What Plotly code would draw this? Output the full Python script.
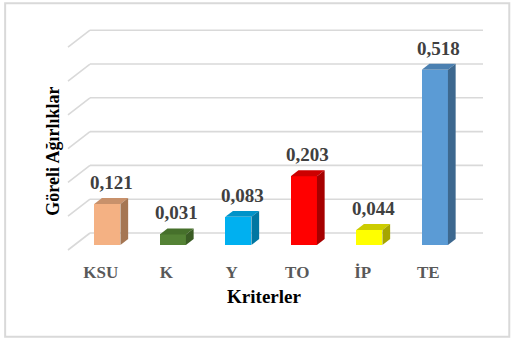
import plotly.graph_objects as go

# Criteria and their relative weights
categories = ["KSU", "K", "Y", "TO", "İP", "TE"]
weights = [0.121, 0.031, 0.083, 0.203, 0.044, 0.518]
grid_values = [0.0, 0.1, 0.2, 0.3, 0.4, 0.5, 0.6]

front_colors = ["#F4B183", "#548235", "#00B0F0", "#FF0000", "#FFFF00", "#5B9BD5"]
top_colors = ["#C8916B", "#46702B", "#0093C9", "#CC0000", "#CCCC00", "#4B80B1"]
side_colors = ["#A57653", "#3A5C24", "#0077A2", "#A60000", "#A6A600", "#3D688F"]

SERIF = "Times New Roman, Liberation Serif, serif"

# Pseudo-3D depth vector (x in category units, y in value units)
DX, DY = 0.336, 0.0503
F_FRONT, F_BACK = 0.3, 0.65   # depth fractions of the bar faces
BAR_W = 0.4

fig = go.Figure()

# Back wall gridlines and left-hand floor diagonals
shapes = []
for g in grid_values:
    shapes.append(dict(type="line", xref="x", yref="y", layer="below",
                       x0=-0.5 + DX, y0=g + DY, x1=len(categories) - 0.5 + DX, y1=g + DY,
                       line=dict(color="#D9D9D9", width=1.6)))
    shapes.append(dict(type="line", xref="x", yref="y", layer="below",
                       x0=-0.5, y0=g, x1=-0.5 + DX, y1=g + DY,
                       line=dict(color="#D9D9D9", width=1.6)))

# Front faces
xs_front = [i + F_FRONT * DX for i in range(len(categories))]
fig.add_trace(go.Bar(
    x=xs_front, y=weights, base=F_FRONT * DY, width=BAR_W,
    marker=dict(color=front_colors, line=dict(width=0)),
    showlegend=False, hoverinfo="skip",
))

# Top and side faces
ddx = (F_BACK - F_FRONT) * DX
ddy = (F_BACK - F_FRONT) * DY
for i, v in enumerate(weights):
    xl = xs_front[i] - BAR_W / 2
    xr = xs_front[i] + BAR_W / 2
    yb = F_FRONT * DY
    yt = v + F_FRONT * DY
    fig.add_trace(go.Scatter(
        x=[xl, xr, xr + ddx, xl + ddx, xl], y=[yt, yt, yt + ddy, yt + ddy, yt],
        fill="toself", fillcolor=top_colors[i], mode="lines", line=dict(width=0),
        showlegend=False, hoverinfo="skip"))
    fig.add_trace(go.Scatter(
        x=[xr, xr + ddx, xr + ddx, xr, xr], y=[yb, yb + ddy, yt + ddy, yt, yb],
        fill="toself", fillcolor=side_colors[i], mode="lines", line=dict(width=0),
        showlegend=False, hoverinfo="skip"))

# Value labels
annotations = []
for i, v in enumerate(weights):
    annotations.append(dict(
        x=xs_front[i] + ddx / 2, y=v + F_BACK * DY, xref="x", yref="y",
        text=f"<b>{v:.3f}</b>".replace(".", ","), showarrow=False,
        yanchor="bottom", yshift=3,
        font=dict(family=SERIF, size=19, color="#404040")))

annotations.append(dict(
    x=0.018, y=0.455, xref="paper", yref="paper", text="<b>Göreli Ağırlıklar</b>",
    textangle=-90, showarrow=False, xanchor="center", yanchor="middle",
    font=dict(family=SERIF, size=18, color="#000000")))

# Light frame around the chart area
shapes.append(dict(type="rect", xref="paper", yref="paper",
                   x0=-0.091, y0=-0.32, x1=1.06, y1=1.07,
                   line=dict(color="#D9D9D9", width=2), fillcolor="rgba(0,0,0,0)"))

fig.update_layout(
    width=513, height=340,
    margin=dict(l=45, r=30, t=20, b=80),
    paper_bgcolor="white", plot_bgcolor="white",
    shapes=shapes, annotations=annotations,
    bargap=0,
    xaxis=dict(range=[-0.851, 5.836], tickvals=list(range(len(categories))),
               ticktext=[f"<b>{c}</b>" for c in categories],
               showgrid=False, zeroline=False, showline=False,
               ticks="", tickfont=dict(family=SERIF, size=17, color="#595959"),
               title=dict(text="<b>Kriterler</b>", standoff=8,
                          font=dict(family=SERIF, size=19, color="#000000"))),
    yaxis=dict(range=[-0.0296, 0.6805], showgrid=False, zeroline=False, showline=False,
               showticklabels=False, ticks=""),
)

fig.write_html("out.html")
